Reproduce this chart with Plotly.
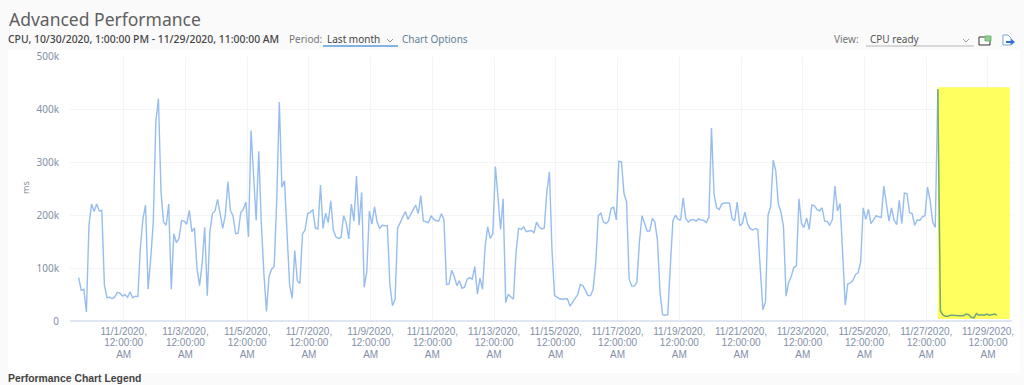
import plotly.graph_objects as go
import pandas as pd

W, H = 1024, 385
start = "2020-10-30 13:00"
values_k = [
82,58,60,17,181,221,207,221,208,209,68,44,45,42,45,54,53,47,50,45,55,44,47,46,140,194,219,60,118,187,
378,420,244,187,181,221,60,165,148,156,190,189,183,209,169,176,99,67,109,177,48,169,203,208,230,203,175,200,263,209,
199,165,166,205,211,225,159,360,285,190,321,184,90,18,84,98,103,228,414,253,265,178,68,43,133,76,71,164,172,203,
205,211,176,174,257,175,204,186,227,172,159,156,158,199,186,155,221,189,274,181,243,64,93,208,183,216,187,175,181,180,
180,68,29,41,176,186,197,207,192,201,208,219,203,237,189,187,186,199,192,190,189,203,192,69,70,96,84,67,76,62,
64,79,82,79,103,51,81,60,140,178,156,165,292,235,173,231,35,50,45,41,128,175,173,178,169,170,171,167,187,178,
174,176,244,282,134,48,45,42,41,42,42,28,35,41,50,69,67,58,48,48,60,109,199,204,187,184,189,213,215,191,
302,301,241,225,79,66,66,73,150,199,184,170,170,194,187,153,55,12,11,12,103,189,200,192,191,233,194,187,191,192,
189,193,191,190,186,196,365,240,214,211,221,223,223,223,194,189,225,180,184,206,184,175,172,175,173,96,21,36,200,216,
304,284,221,206,178,47,73,84,101,104,231,184,177,195,173,219,218,211,208,214,189,188,181,192,255,208,222,128,30,70,
72,77,88,91,112,214,192,211,184,191,199,197,196,255,222,189,214,191,182,228,184,242,241,205,203,181,191,190,197,199,
253,228,187,177,438,19,11,9,9,11,11,10,10,10,10,13,12,7,6,14,11,12,11,13,11,12,13,11,
]
times = pd.date_range(start, periods=len(values_k), freq="2h")
values = [v * 1000 for v in values_k]
highlight_from = 334
band_x = ["2020-11-27 09:00", "2020-11-29 17:00"]
band_y = [4000, 442000]

tick_dates = pd.date_range("2020-11-01", "2020-11-29", freq="2D")
tick_labels = ["<br>".join(f'<span style="font-size:10px">{part}</span>'
                           for part in (f"{d.month}/{d.day}/{d.year},", "12:00:00", "AM"))
               for d in tick_dates]
y_ticks = [0, 100000, 200000, 300000, 400000, 500000]
y_labels = ["0", "100k", "200k", "300k", "400k", "500k"]


def px(x):
    return x / W


def py(y):
    return 1 - y / H


FONT = "Noto Sans"
TICK_FONT = "Liberation Sans"
fig = go.Figure()
fig.add_trace(go.Scatter(x=[band_x[0], band_x[1], band_x[1], band_x[0], band_x[0]],
                         y=[band_y[0], band_y[0], band_y[1], band_y[1], band_y[0]],
                         mode="lines", fill="toself", fillcolor="#ffff60", line=dict(width=0),
                         hoverinfo="skip", showlegend=False))
fig.add_trace(go.Scatter(x=times[:highlight_from + 1], y=values[:highlight_from + 1], mode="lines",
                         line=dict(color="#96bdee", width=1.4), hoverinfo="x+y", showlegend=False))
fig.add_trace(go.Scatter(x=times[highlight_from:], y=values[highlight_from:], mode="lines",
                         line=dict(color="#6fa878", width=1.5), hoverinfo="x+y", showlegend=False))


def rect(x0, y0, x1, y1, fill, layer="below"):
    fig.add_shape(type="rect", xref="paper", yref="paper", x0=px(x0), x1=px(x1), y0=py(y0), y1=py(y1),
                  fillcolor=fill, line=dict(color=fill, width=0), layer=layer)


def poly(points, color, width=1, fill=None):
    path = "M " + " L ".join(f"{px(a):.5f},{py(b):.5f}" for a, b in points)
    if fill:
        path += " Z"
    fig.add_shape(type="path", xref="paper", yref="paper", path=path,
                  line=dict(color=color, width=width), fillcolor=fill, layer="above")


def text(x, y, s, size, color, anchor="left", weight=None, angle=0, family=FONT):
    fig.add_annotation(xref="paper", yref="paper", x=px(x), y=py(y), text=s, showarrow=False, xanchor=anchor,
                       yanchor="middle", textangle=angle, borderpad=0, borderwidth=0,
                       font=dict(family=family, size=size, color=color, weight=weight))


rect(8, 50, 1020, 373, "#ffffff")

text(9, 19, "Advanced Performance", 17.5, "#5f5f5f")
text(8, 39.5, "CPU, 10/30/2020, 1:00:00 PM - 11/29/2020, 11:00:00 AM", 10.4, "#444444", weight=500)
text(289, 39.5, "Period:", 10, "#777777")
text(327, 39.5, "Last month", 10, "#444444")
text(402, 39.5, "Chart Options", 10, "#5f7f98")
text(834, 39.5, "View:", 10, "#777777")
text(870, 39.5, "CPU ready", 10, "#555555")
text(8, 378.8, "Performance Chart Legend", 10.4, "#444444", weight=700, family=TICK_FONT)
text(26, 188, "ms", 9, "#8a8f98", anchor="center", angle=-90)

poly([(323, 46), (398, 46)], "#5b9bdc", 1.5)
poly([(866, 46), (974, 46)], "#b5b5b5", 1.2)
poly([(387, 39), (390, 42), (393, 39)], "#777777", 0.8)
poly([(963, 39), (966, 42), (969, 39)], "#888888", 0.8)
poly([(979, 37), (990, 37), (990, 45), (979, 45)], "#333333", 1, fill="#ffffff")
poly([(985, 36), (991, 36), (991, 41), (985, 41)], "#6db56d", 1, fill="#8fd08f")
poly([(1003, 35), (1008, 35), (1011, 38), (1011, 45), (1003, 45)], "#7aa7df", 1, fill="#ffffff")
poly([(1006, 42), (1013, 42)], "#2f6fd0", 2)
poly([(1011, 39.5), (1014, 42), (1011, 44.5)], "#2f6fd0", 1.2)

fig.update_layout(
    width=W, height=H, margin=dict(l=0, r=0, t=0, b=0, autoexpand=False), paper_bgcolor="#fafafa",
    plot_bgcolor="rgba(0,0,0,0)", showlegend=False,
    xaxis=dict(domain=[px(70), px(1012)], type="date", range=["2020-10-30 06:15", "2020-11-29 18:40"],
               tickvals=list(tick_dates), ticktext=tick_labels, showgrid=True, gridcolor="#f2f4f8", gridwidth=1,
               zeroline=False, showline=False, ticks="", tickangle=0, automargin=False, ticklabelstandoff=4,
               tickfont=dict(family=TICK_FONT, size=8.9, color="#8290a8")),
    yaxis=dict(domain=[py(321), py(56.5)], range=[0, 500000], tickvals=y_ticks, ticktext=y_labels, showgrid=True,
               gridcolor="#f2f4f8", gridwidth=1, zeroline=True, zerolinecolor="#dfe5f2", zerolinewidth=1.5,
               showline=False, ticks="", ticklabelstandoff=10, automargin=False,
               tickfont=dict(family=FONT, size=10, color="#8290a8")),
)
fig.write_html("out.html", config={"displayModeBar": False},
               post_script="document.body.style.margin='0';document.body.style.overflow='hidden';")
